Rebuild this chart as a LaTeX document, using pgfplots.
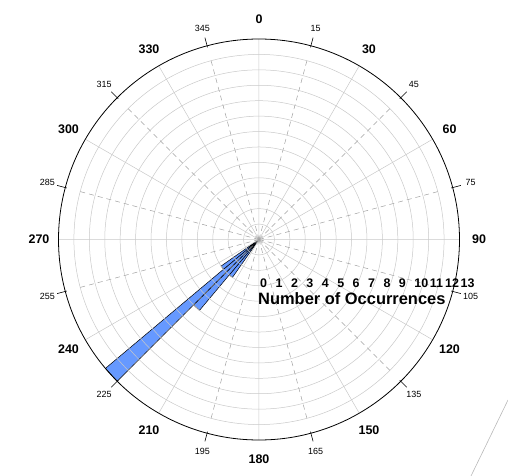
\documentclass[border=0pt]{standalone}
\usepackage{fontspec}
\setmainfont{Liberation Sans}
\usepackage{pgfplots}
\pgfplotsset{compat=1.18}
\usepgfplotslibrary{polar}
\definecolor{barblue}{RGB}{102,153,255}
\definecolor{gridgray}{RGB}{200,200,200}
\definecolor{radgray}{RGB}{160,160,160}
\begin{document}
\begin{tikzpicture}
\useasboundingbox (-259bp,-236.5bp) rectangle (249bp,239.5bp);
\begin{polaraxis}[
  at={(0,0)}, anchor=center,
  scale only axis, width=401bp, height=401bp,
  xmin=0, xmax=360, ymin=0, ymax=13,
  xtick={0,30,...,330}, ytick={1,...,12},
  xticklabels={}, yticklabels={},
  major tick length=0pt,
  xmajorgrids, ymajorgrids,
  major grid style={gridgray, line width=0.5pt},
  separate axis lines,
  x axis line style={black, line width=0.8pt},
  y axis line style={draw=none},
  axis on top,
  clip=false,
]
% bars: polar angle = 90 - compass bearing, radius = number of occurrences
\addplot[fill=barblue, draw=black, line width=0.5pt] coordinates {(0,0) (230,3) (235,3)} -- cycle;   % 215-220
\addplot[fill=barblue, draw=black, line width=0.5pt] coordinates {(0,0) (225,6) (230,6)} -- cycle;   % 220-225
\addplot[fill=barblue, draw=black, line width=0.5pt] coordinates {(0,0) (220,13) (225,13)} -- cycle; % 225-230
\addplot[fill=barblue, draw=black, line width=0.5pt] coordinates {(0,0) (215,3) (220,3)} -- cycle;   % 230-235
\end{polaraxis}
\foreach \b in {15,45,...,345} {
  \draw[radgray, line width=0.5pt, dash pattern=on 5bp off 4bp] (0,0) -- ({90-\b}:185bp);
  \draw[black, line width=0.6pt] ({90-\b}:199bp) -- ({90-\b}:209bp);
  \node[font=\fontsize{9}{9}\selectfont] at ({90-\b}:219bp) {\b};
}
\foreach \b in {0,30,...,330} {
  \node[font=\bfseries\fontsize{12.5}{12.5}\selectfont] at ({90-\b}:220bp) {\b};
}
\foreach \i in {0,...,13} {
  \node[anchor=west, inner sep=0pt, font=\bfseries\fontsize{12.5}{12.5}\selectfont] at ({\i*15.42bp+1bp},-44bp) {\i};
}
\node[anchor=west, inner sep=0pt, font=\bfseries\fontsize{16.5}{16.5}\selectfont] at (-1bp,-59.5bp) {Number of Occurrences};
\draw[gray!55, line width=0.6pt] (249bp,-160.5bp) -- (212bp,-236.5bp);
\end{tikzpicture}
\end{document}
